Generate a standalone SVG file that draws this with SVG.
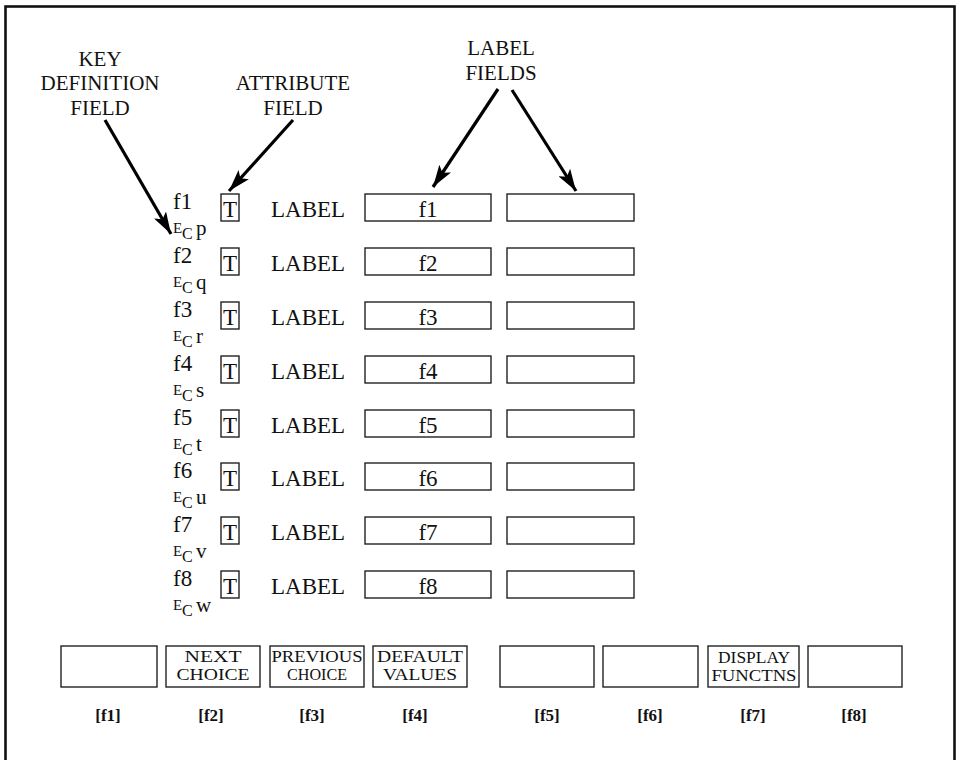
<svg xmlns="http://www.w3.org/2000/svg" width="957" height="760" viewBox="0 0 957 760">
<style>
text{font-family:"Liberation Serif","Times New Roman",serif;fill:#111}
.hd{font-size:21px;text-anchor:middle}
.row{font-size:23px}
.mid{text-anchor:middle}
.sm1{font-size:15px}
.sm2{font-size:16px}
.lc{font-size:21px}
.box{fill:#fff;stroke:#222;stroke-width:1.4}
.btn{font-size:17px;text-anchor:middle}
.key{font-size:17px;font-weight:bold;text-anchor:middle}
.arr{stroke:#000;stroke-width:3.2;fill:none;marker-end:url(#ah)}
</style>
<defs>
<marker id="ah" markerUnits="userSpaceOnUse" markerWidth="24" markerHeight="14" refX="22" refY="7" orient="auto">
<path d="M0,0 L22,7 L0,14 L5,7 z" fill="#000"/>
</marker>
</defs>
<rect x="0" y="0" width="957" height="760" fill="#fff"/>
<rect id="frame" x="5.5" y="6.5" width="949" height="770" fill="none" stroke="#111" stroke-width="2.6"/>

<g id="hdr-key">
<text class="hd" x="100" y="66">KEY</text>
<text class="hd" x="100" y="90">DEFINITION</text>
<text class="hd" x="100" y="115">FIELD</text>
</g>
<g id="hdr-attr">
<text class="hd" x="293" y="90">ATTRIBUTE</text>
<text class="hd" x="293" y="115">FIELD</text>
</g>
<g id="hdr-label">
<text class="hd" x="501" y="55">LABEL</text>
<text class="hd" x="501" y="80">FIELDS</text>
</g>

<g id="connectors">
<line class="arr" x1="105" y1="120" x2="171" y2="234"/>
<line class="arr" x1="293" y1="120" x2="229" y2="191"/>
<line class="arr" x1="498" y1="89" x2="433" y2="187"/>
<line class="arr" x1="512" y1="90" x2="576" y2="191"/>
</g>

<g id="row-f1" transform="translate(0,194)">
<text class="row" x="173" y="15">f1</text>
<text class="sm1" x="173" y="39">E</text><text class="sm2" x="182" y="45">C</text><text class="lc" x="196" y="41">p</text>
<rect class="box" x="221" y="0" width="18" height="27"/><text class="row mid" x="230" y="23">T</text>
<text class="row" x="271" y="23">LABEL</text>
<rect class="box" x="365" y="0" width="126" height="27"/><text class="row mid" x="428" y="23">f1</text>
<rect class="box" x="507" y="0" width="127" height="27"/>
</g>
<g id="row-f2" transform="translate(0,248)">
<text class="row" x="173" y="15">f2</text>
<text class="sm1" x="173" y="39">E</text><text class="sm2" x="182" y="45">C</text><text class="lc" x="196" y="41">q</text>
<rect class="box" x="221" y="0" width="18" height="27"/><text class="row mid" x="230" y="23">T</text>
<text class="row" x="271" y="23">LABEL</text>
<rect class="box" x="365" y="0" width="126" height="27"/><text class="row mid" x="428" y="23">f2</text>
<rect class="box" x="507" y="0" width="127" height="27"/>
</g>
<g id="row-f3" transform="translate(0,302)">
<text class="row" x="173" y="15">f3</text>
<text class="sm1" x="173" y="39">E</text><text class="sm2" x="182" y="45">C</text><text class="lc" x="196" y="41">r</text>
<rect class="box" x="221" y="0" width="18" height="27"/><text class="row mid" x="230" y="23">T</text>
<text class="row" x="271" y="23">LABEL</text>
<rect class="box" x="365" y="0" width="126" height="27"/><text class="row mid" x="428" y="23">f3</text>
<rect class="box" x="507" y="0" width="127" height="27"/>
</g>
<g id="row-f4" transform="translate(0,356)">
<text class="row" x="173" y="15">f4</text>
<text class="sm1" x="173" y="39">E</text><text class="sm2" x="182" y="45">C</text><text class="lc" x="196" y="41">s</text>
<rect class="box" x="221" y="0" width="18" height="27"/><text class="row mid" x="230" y="23">T</text>
<text class="row" x="271" y="23">LABEL</text>
<rect class="box" x="365" y="0" width="126" height="27"/><text class="row mid" x="428" y="23">f4</text>
<rect class="box" x="507" y="0" width="127" height="27"/>
</g>
<g id="row-f5" transform="translate(0,410)">
<text class="row" x="173" y="15">f5</text>
<text class="sm1" x="173" y="39">E</text><text class="sm2" x="182" y="45">C</text><text class="lc" x="196" y="41">t</text>
<rect class="box" x="221" y="0" width="18" height="27"/><text class="row mid" x="230" y="23">T</text>
<text class="row" x="271" y="23">LABEL</text>
<rect class="box" x="365" y="0" width="126" height="27"/><text class="row mid" x="428" y="23">f5</text>
<rect class="box" x="507" y="0" width="127" height="27"/>
</g>
<g id="row-f6" transform="translate(0,463)">
<text class="row" x="173" y="15">f6</text>
<text class="sm1" x="173" y="39">E</text><text class="sm2" x="182" y="45">C</text><text class="lc" x="196" y="41">u</text>
<rect class="box" x="221" y="0" width="18" height="27"/><text class="row mid" x="230" y="23">T</text>
<text class="row" x="271" y="23">LABEL</text>
<rect class="box" x="365" y="0" width="126" height="27"/><text class="row mid" x="428" y="23">f6</text>
<rect class="box" x="507" y="0" width="127" height="27"/>
</g>
<g id="row-f7" transform="translate(0,517)">
<text class="row" x="173" y="15">f7</text>
<text class="sm1" x="173" y="39">E</text><text class="sm2" x="182" y="45">C</text><text class="lc" x="196" y="41">v</text>
<rect class="box" x="221" y="0" width="18" height="27"/><text class="row mid" x="230" y="23">T</text>
<text class="row" x="271" y="23">LABEL</text>
<rect class="box" x="365" y="0" width="126" height="27"/><text class="row mid" x="428" y="23">f7</text>
<rect class="box" x="507" y="0" width="127" height="27"/>
</g>
<g id="row-f8" transform="translate(0,571)">
<text class="row" x="173" y="15">f8</text>
<text class="sm1" x="173" y="39">E</text><text class="sm2" x="182" y="45">C</text><text class="lc" x="196" y="41">w</text>
<rect class="box" x="221" y="0" width="18" height="27"/><text class="row mid" x="230" y="23">T</text>
<text class="row" x="271" y="23">LABEL</text>
<rect class="box" x="365" y="0" width="126" height="27"/><text class="row mid" x="428" y="23">f8</text>
<rect class="box" x="507" y="0" width="127" height="27"/>
</g>

<g id="key-f1">
<rect class="box" x="61" y="646" width="96" height="41"/>
<text class="key" x="108" y="721">[f1]</text>
</g>
<g id="key-f2">
<rect class="box" x="166" y="646" width="94" height="41"/>
<text class="btn" x="213" y="662" textLength="57" lengthAdjust="spacingAndGlyphs">NEXT</text>
<text class="btn" x="213" y="680" textLength="73" lengthAdjust="spacingAndGlyphs">CHOICE</text>
<text class="key" x="211" y="721">[f2]</text>
</g>
<g id="key-f3">
<rect class="box" x="270" y="646" width="94" height="41"/>
<text class="btn" x="317" y="662" textLength="91" lengthAdjust="spacingAndGlyphs">PREVIOUS</text>
<text class="btn" x="317" y="680" textLength="60" lengthAdjust="spacingAndGlyphs">CHOICE</text>
<text class="key" x="312" y="721">[f3]</text>
</g>
<g id="key-f4">
<rect class="box" x="373" y="646" width="94" height="41"/>
<text class="btn" x="420" y="662" textLength="86" lengthAdjust="spacingAndGlyphs">DEFAULT</text>
<text class="btn" x="420" y="680" textLength="74" lengthAdjust="spacingAndGlyphs">VALUES</text>
<text class="key" x="415" y="721">[f4]</text>
</g>
<g id="key-f5">
<rect class="box" x="500" y="646" width="94" height="41"/>
<text class="key" x="547" y="721">[f5]</text>
</g>
<g id="key-f6">
<rect class="box" x="603" y="646" width="95" height="41"/>
<text class="key" x="650" y="721">[f6]</text>
</g>
<g id="key-f7">
<rect class="box" x="708" y="646" width="91" height="41"/>
<text class="btn" x="754" y="663" textLength="72" lengthAdjust="spacingAndGlyphs">DISPLAY</text>
<text class="btn" x="754" y="681" textLength="85" lengthAdjust="spacingAndGlyphs">FUNCTNS</text>
<text class="key" x="753" y="721">[f7]</text>
</g>
<g id="key-f8">
<rect class="box" x="808" y="646" width="94" height="41"/>
<text class="key" x="854" y="721">[f8]</text>
</g>
</svg>
